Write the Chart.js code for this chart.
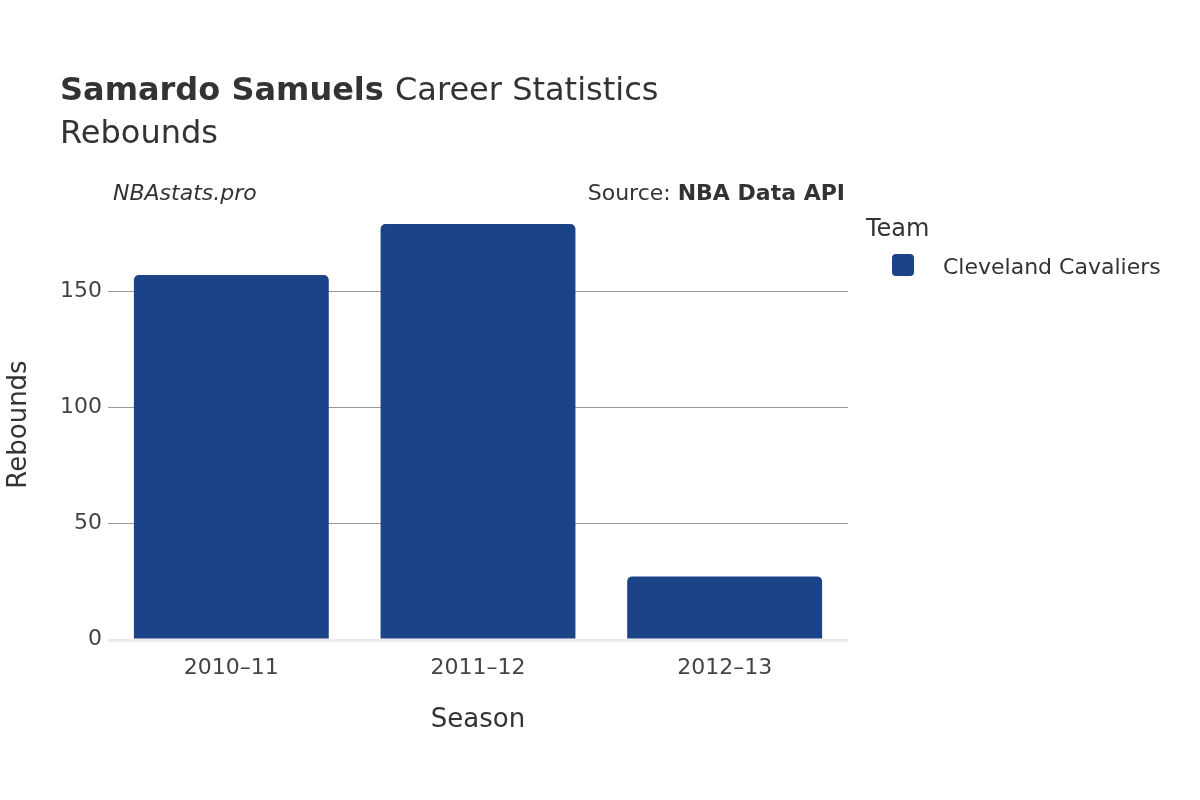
<!DOCTYPE html>
<html>
<head>
<meta charset="utf-8">
<script src="https://cdn.jsdelivr.net/npm/chart.js@4"></script>
<style>
  body { margin: 0; background: #fff; }
  #wrap { width: 1200px; height: 800px; }
</style>
</head>
<body>
<div id="wrap"><canvas id="c" width="1200" height="800"></canvas></div>
<script>
const seasons = ['2010–11', '2011–12', '2012–13'];
const rebounds = [157, 179, 27];
const yTicks = [0, 50, 100, 150];
const team = 'Cleveland Cavaliers';
const barColor = '#1c4288';
const FONT = 'DejaVu Sans';

// titles, source line, legend
const textPlugin = {
    id: 'texts',
    afterDraw(chart) {
        const ctx = chart.ctx;
        ctx.save();
        ctx.fillStyle = '#333';
        ctx.textBaseline = 'alphabetic';
        ctx.textAlign = 'left';
        ctx.font = `bold 32px ${FONT}`;
        ctx.fillText('Samardo Samuels', 60, 100);
        const w = ctx.measureText('Samardo Samuels ').width;
        ctx.font = `32px ${FONT}`;
        ctx.fillText('Career Statistics', 60 + w, 100);
        ctx.fillText('Rebounds', 60, 143);

        ctx.font = `italic 22px ${FONT}`;
        ctx.fillText('NBAstats.pro', 113, 200);
        ctx.textAlign = 'right';
        ctx.font = `bold 22px ${FONT}`;
        ctx.fillText('NBA Data API', 845, 200);
        const bw = ctx.measureText('NBA Data API').width;
        ctx.font = `22px ${FONT}`;
        ctx.fillText('Source: ', 845 - bw, 200);

        ctx.textAlign = 'left';
        ctx.font = `24px ${FONT}`;
        ctx.fillText('Team', 866, 236);
        ctx.fillStyle = barColor;
        ctx.beginPath();
        ctx.roundRect(892, 254, 22, 22, 4);
        ctx.fill();
        ctx.fillStyle = '#333';
        ctx.font = `22px ${FONT}`;
        ctx.fillText(team, 943, 274);

        // baseline
        const a = chart.chartArea;
        ctx.fillStyle = '#ebebeb';
        ctx.fillRect(a.left, a.bottom, a.right - a.left, 3);
        ctx.restore();
    }
};

new Chart(document.getElementById('c'), {
    type: 'bar',
    data: {
        labels: seasons,
        datasets: [{
            label: team,
            data: rebounds,
            backgroundColor: barColor,
            borderRadius: 5,
            borderSkipped: 'bottom',
            barPercentage: 0.79,
            categoryPercentage: 1
        }]
    },
    options: {
        responsive: false,
        animation: false,
        layout: { padding: { left: 0, top: 210, right: 352, bottom: 60 } },
        plugins: { legend: { display: false }, tooltip: { enabled: false } },
        scales: {
            x: {
                grid: { display: false },
                border: { display: false },
                ticks: { color: '#444', font: { family: FONT, size: 22 }, padding: 8 },
                title: { display: true, text: 'Season', color: '#333', font: { family: FONT, size: 26 }, padding: { top: 18 } },
                afterFit(s) { s.height = 101; }
            },
            y: {
                min: 0,
                max: 185,
                afterBuildTicks(s) { s.ticks = yTicks.map(v => ({ value: v })); },
                grid: { color: c => c.tick.value === 0 ? 'rgba(0,0,0,0)' : '#999', lineWidth: 1, drawTicks: false },
                border: { display: false },
                ticks: { color: '#444', font: { family: FONT, size: 22 }, padding: 6 },
                title: { display: true, text: 'Rebounds', color: '#333', font: { family: FONT, size: 26 }, padding: { bottom: 28 } },
                afterFit(s) { s.width = 108; }
            }
        }
    },
    plugins: [textPlugin]
});
</script>
</body>
</html>
